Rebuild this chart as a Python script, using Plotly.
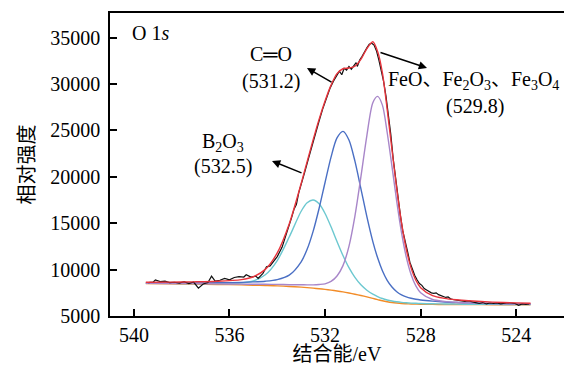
import plotly.graph_objects as go

# ---- data ----
energy_fit = [539.5, 538.5, 537.5, 536.5, 535.5, 535.0, 534.5, 534.0, 533.5, 533.0,
              532.75, 532.5, 532.25, 532.0, 531.75, 531.5, 531.25, 531.0, 530.75, 530.5,
              530.25, 530.0, 529.8, 529.6, 529.4, 529.2, 529.0, 528.8, 528.6, 528.4,
              528.2, 528.0, 527.5, 527.0, 526.5, 526.0, 525.0, 524.0, 523.4]
background = [8500, 8470, 8440, 8400, 8350, 8320, 8290, 8250, 8180, 8110,
              8060, 8000, 7940, 7870, 7790, 7700, 7600, 7480, 7350, 7210,
              7060, 6900, 6770, 6640, 6540, 6460, 6400, 6350, 6320, 6295,
              6280, 6265, 6250, 6240, 6235, 6230, 6220, 6210, 6205]
fit_b2o3 = [8534, 8517, 8505, 8500, 8565, 8775, 9440, 10980, 13510, 16290,
            17210, 17500, 17090, 16050, 14610, 13030, 11520, 10210, 9160, 8360,
            7780, 7355, 7100, 6885, 6730, 6618, 6535, 6470, 6425, 6391,
            6367, 6345, 6315, 6295, 6282, 6270, 6250, 6234, 6226]
fit_co = [8575, 8570, 8570, 8580, 8625, 8675, 8750, 8920, 9400, 10840,
          12190, 14120, 16590, 19390, 22130, 24190, 24900, 23970, 21690, 18730,
          15710, 13020, 11270, 9880, 8840, 8120, 7620, 7280, 7060, 6910,
          6800, 6725, 6605, 6515, 6455, 6410, 6350, 6310, 6290]
fit_fe = [8528, 8505, 8485, 8461, 8435, 8420, 8415, 8405, 8375, 8370,
          8360, 8360, 8395, 8470, 8725, 9310, 10430, 12510, 15770, 19990,
          24450, 27990, 28670, 27730, 24780, 21130, 17350, 13990, 11350, 9475,
          8250, 7515, 6780, 6575, 6480, 6420, 6340, 6292, 6272]
envelope = [8637, 8652, 8680, 8741, 8925, 9230, 10025, 11805, 14925, 19280,
            21640, 23980, 26195, 28170, 29885, 31130, 31650, 31730, 31920, 32660,
            33820, 34565, 33500, 31215, 27270, 22950, 18705, 15040, 12195, 10186,
            8857, 8055, 7200, 6905, 6747, 6640, 6500, 6416, 6378]

energy_raw = [539.4, 539.2, 539.1, 538.9, 538.7, 538.5, 538.3, 538.1, 537.9, 537.7,
              537.5, 537.3, 537.1, 536.9, 536.75, 536.6, 536.4, 536.2, 536.0, 535.8,
              535.6, 535.4, 535.3, 535.1, 534.9, 534.8, 534.6, 534.45, 534.3, 534.15,
              534.0, 533.8, 533.6, 533.5, 533.4, 533.3, 533.2, 533.1, 533.0, 532.85,
              532.7, 532.55, 532.4, 532.25, 532.1, 531.95, 531.8, 531.65, 531.5, 531.4,
              531.3, 531.2, 531.1, 531.0, 530.9, 530.8, 530.7, 530.65, 530.55, 530.45,
              530.35, 530.25, 530.15, 530.05, 529.95, 529.85, 529.75, 529.65, 529.55, 529.45,
              529.35, 529.25, 529.15, 529.05, 528.95, 528.85, 528.75, 528.65, 528.55, 528.45,
              528.35, 528.25, 528.15, 528.05, 527.95, 527.85, 527.75, 527.65, 527.55, 527.45,
              527.35, 527.25, 527.15, 527.05, 526.95, 526.85, 526.75, 526.6, 526.45, 526.3,
              526.15, 526.0, 525.85, 525.7, 525.55, 525.4, 525.25, 525.1, 524.95, 524.8,
              524.65, 524.5, 524.35, 524.2, 524.05, 523.9, 523.75, 523.6, 523.45]
intensity_raw = [8600, 8650, 8880, 8700, 8760, 8600, 8640, 8550, 8700, 8500,
                 8660, 8000, 8450, 8600, 9300, 8750, 8850, 9050, 8900, 9150,
                 9250, 9200, 9450, 9200, 9300, 9050, 9600, 10300, 10400, 10900,
                 11400, 12400, 13900, 14700, 15600, 16500, 17000, 18300, 19100, 20500,
                 21900, 23300, 24900, 26000, 27300, 28500, 29500, 30300, 30900, 31400,
                 31000, 31700, 31500, 31900, 31600, 31900, 32300, 31900, 32600, 33000,
                 33500, 33900, 34300, 34400, 34200, 33600, 32600, 31500, 30300, 28700,
                 26900, 24600, 22000, 19800, 17700, 15900, 14200, 12900, 12000, 10800,
                 10000, 9400, 8900, 8500, 8300, 7950, 7800, 7650, 7500, 7450,
                 7500, 7300, 7200, 7150, 7000, 7050, 6850, 6750, 6700, 6650,
                 6580, 6620, 6500, 6450, 6350, 6450, 6300, 6400, 6350, 6420,
                 6300, 6380, 6450, 6400, 6350, 6150, 6300, 6250, 6300]

x_ticks = [540, 536, 532, 528, 524]
y_ticks = [5000, 10000, 15000, 20000, 25000, 30000, 35000]

SERIF = "Liberation Serif, Times New Roman, Noto Sans CJK SC, serif"

fig = go.Figure()
components = [
    (background, "#F28C28"),
    (fit_b2o3, "#6CC8D0"),
    (fit_co, "#4A6FC4"),
    (fit_fe, "#A886C9"),
]
for ys, col in components:
    fig.add_trace(go.Scatter(x=energy_fit, y=ys, mode="lines",
                             line=dict(color=col, width=1.4, shape="spline", smoothing=0.8),
                             showlegend=False, hoverinfo="skip"))
fig.add_trace(go.Scatter(x=energy_raw, y=intensity_raw, mode="lines",
                         line=dict(color="#111111", width=1.2),
                         showlegend=False, hoverinfo="skip"))
fig.add_trace(go.Scatter(x=energy_fit, y=envelope, mode="lines",
                         line=dict(color="#E8343C", width=1.4, shape="spline", smoothing=0.8),
                         showlegend=False, hoverinfo="skip"))

fig.update_layout(
    width=564, height=365,
    margin=dict(l=110, r=0, t=13, b=49),
    paper_bgcolor="white", plot_bgcolor="white",
    font=dict(family=SERIF, size=20, color="black"),
)
fig.update_xaxes(
    range=[541.0, 522.0], tickmode="array", tickvals=x_ticks,
    ticktext=[str(v) for v in x_ticks],
    ticks="inside", ticklen=7, tickwidth=1.5, tickcolor="black",
    showline=True, linecolor="black", linewidth=1.6, mirror=True,
    showgrid=False, zeroline=False,
    tickfont=dict(family=SERIF, size=20),
    title=dict(text="结合能/eV", font=dict(family=SERIF, size=20), standoff=0),
)
fig.update_yaxes(
    range=[5000, 37660], tickmode="array", tickvals=y_ticks,
    ticktext=[str(v) for v in y_ticks],
    ticks="inside", ticklen=7, tickwidth=1.5, tickcolor="black",
    showline=True, linecolor="black", linewidth=1.6, mirror=False,
    showgrid=False, zeroline=False,
    tickfont=dict(family=SERIF, size=20), ticklabelstandoff=4,
    title=dict(text="相对强度", font=dict(family=SERIF, size=20), standoff=10),
)

W, H = 454.0, 303.0
def px(x):
    return (x - 110) / W
def py(y):
    return (316 - y) / H

texts = [
    ("O 1<i>s</i>", 130, 33, "left"),
    ("C═O", 271, 54, "center"),
    ("(531.2)", 270.5, 81, "center"),
    ("B<sub>2</sub>O<sub>3</sub>", 223, 142.5, "center"),
    ("(532.5)", 222.5, 167, "center"),
    ("FeO、Fe<sub>2</sub>O<sub>3</sub>、Fe<sub>3</sub>O<sub>4</sub>", 386, 80, "left"),
    ("(529.8)", 474.5, 106, "center"),
]
for t, x, y, anc in texts:
    fig.add_annotation(text=t, xref="paper", yref="paper", x=px(x), y=py(y),
                       xanchor=anc, yanchor="middle", showarrow=False,
                       font=dict(family=SERIF, size=20, color="black"))

arrows = [
    ((307, 68), (333, 83)),
    ((272, 161), (303, 173.5)),
    ((427, 68), (379, 52)),
]
for (hx, hy), (tx, ty) in arrows:
    fig.add_annotation(text="", xref="paper", yref="paper", x=px(hx), y=py(hy),
                       ax=tx - hx, ay=ty - hy, showarrow=True,
                       arrowhead=2, arrowsize=1.1, arrowwidth=1.5, arrowcolor="black")

fig.write_html("out.html")
